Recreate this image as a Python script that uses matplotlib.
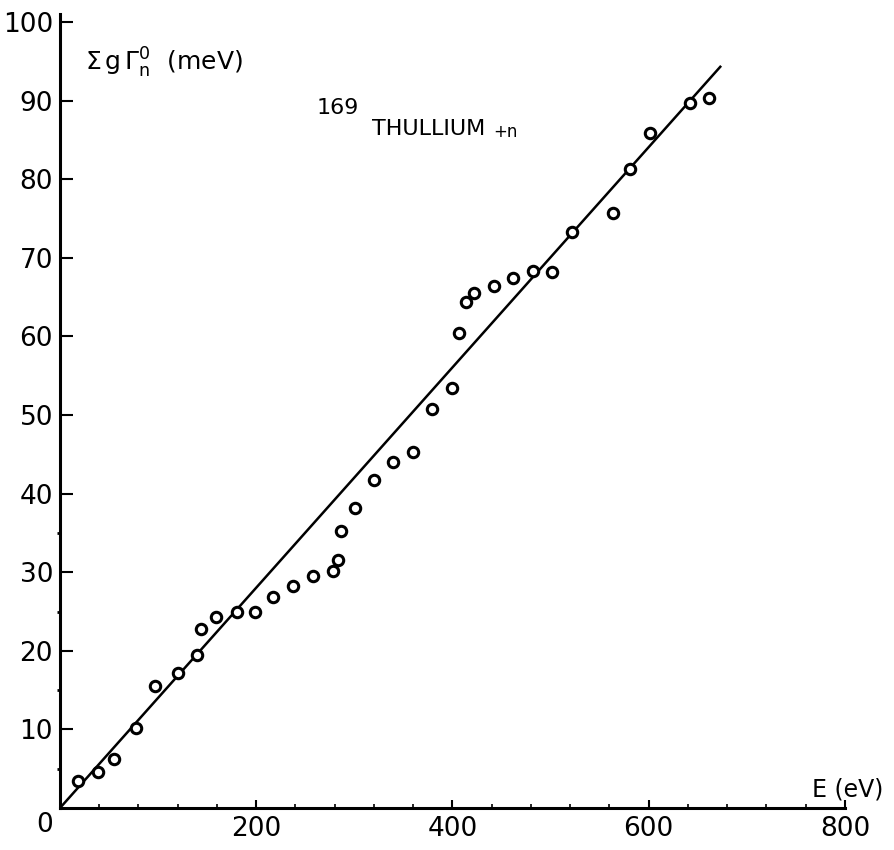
import matplotlib.pyplot as plt
from matplotlib.ticker import MultipleLocator, FixedLocator

# resonance energies (eV) and cumulative reduced neutron widths (meV)
energy = [18, 39, 55, 78, 97, 120, 140, 144, 159, 180, 199, 217,
          238, 258, 278, 283, 286, 301, 320, 339, 360, 379, 400, 407,
          414, 422, 442, 462, 482, 501, 522, 564, 581, 601, 642, 661]
sum_width = [3.4, 4.6, 6.2, 10.2, 15.5, 17.2, 19.5, 22.8, 24.3, 24.9, 24.9, 26.9,
             28.2, 29.5, 30.2, 31.6, 35.2, 38.2, 41.7, 44.0, 45.3, 50.8, 53.4, 60.4,
             64.4, 65.5, 66.4, 67.4, 68.3, 68.2, 73.3, 75.7, 81.3, 85.9, 89.7, 90.3]

# straight-line fit drawn through the origin
fit_x = [0, 673]
fit_y = [0, 94.3]

x_ticks = [200, 400, 600, 800]
y_ticks = [10, 20, 30, 40, 50, 60, 70, 80, 90, 100]

plt.rcParams['font.family'] = ['DejaVu Sans']

fig = plt.figure(figsize=(8.95, 8.5), dpi=100)
ax = fig.add_axes([0.067, 0.0494, 0.877, 0.934])

ax.plot(fit_x, fit_y, color='black', lw=1.8)
ax.plot(energy, sum_width, 'o', mfc='white', mec='black', ms=7.5, mew=2.2)

ax.set_xlim(0, 800)
ax.set_ylim(0, 101)

for side in ['top', 'right']:
    ax.spines[side].set_visible(False)
for side in ['left', 'bottom']:
    ax.spines[side].set_linewidth(2.2)

ax.xaxis.set_major_locator(FixedLocator(x_ticks))
ax.xaxis.set_minor_locator(MultipleLocator(40))
ax.yaxis.set_major_locator(FixedLocator(y_ticks))
ax.yaxis.set_minor_locator(FixedLocator([5, 15, 25, 35]))

ax.tick_params(axis='x', which='major', direction='in', length=6, width=1.5,
               labelsize=19, pad=6)
ax.tick_params(axis='x', which='minor', direction='in', length=3, width=1.2)
ax.tick_params(axis='y', which='major', direction='in', length=9, width=1.5,
               labelsize=19, pad=5)
ax.tick_params(axis='y', which='minor', direction='out', length=2, width=2)

ax.text(-0.02, -0.021, '0', transform=ax.transAxes, ha='center', va='center',
        fontsize=19)
ax.text(1.004, 0.023, 'E (eV)', transform=ax.transAxes, ha='center',
        va='center', fontsize=17)

fig.text(85 / 895, 1 - 63 / 850, r'$\Sigma\,\mathrm{g}\,\Gamma_\mathrm{n}^\mathrm{0}$  (meV)',
         ha='left', va='center', fontsize=18)

# isotope label
ax.text(262, 89.0, '169', ha='left', va='center', fontsize=16)
ax.text(318, 86.4, 'THULLIUM', ha='left', va='center', fontsize=16)
ax.text(442, 86.0, '+n', ha='left', va='center', fontsize=12)

fig.savefig('out.png', dpi=100)
